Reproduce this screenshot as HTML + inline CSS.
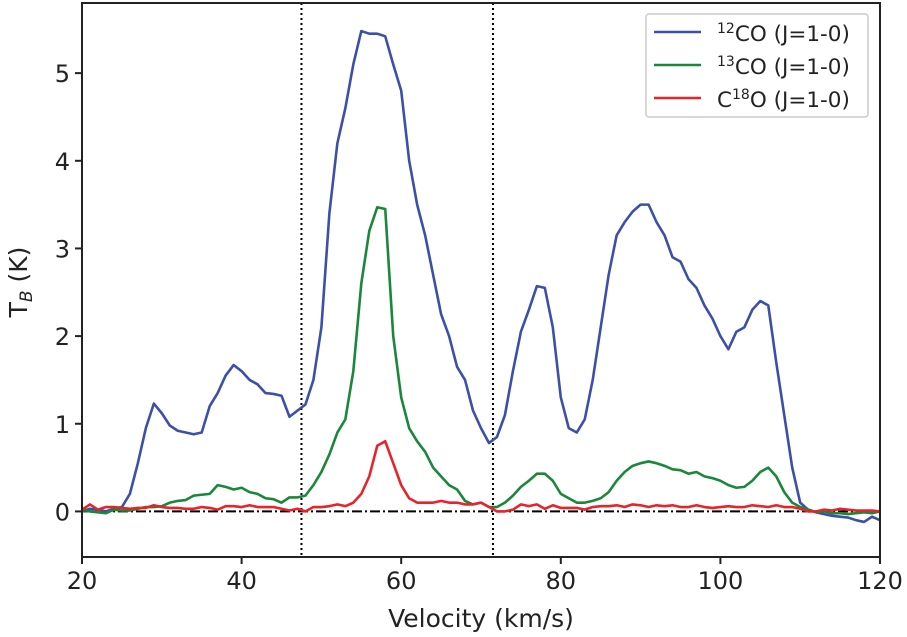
<!DOCTYPE html>
<html><head><meta charset="utf-8">
<style>body{margin:0;background:#fff}svg{display:block;font-family:"DejaVu Sans","Liberation Sans",sans-serif}</style>
</head><body>
<svg id="chart" width="907" height="637" viewBox="0 0 907 637" xmlns="http://www.w3.org/2000/svg">
<g id="plot"></g>
</svg>
<script>
const velocities=[];for(let v=20;v<=120;v++)velocities.push(v);
const co12=[0,0.03,0.02,0,0.03,0.05,0.2,0.55,0.95,1.23,1.12,0.98,0.92,0.9,0.88,0.9,1.2,1.35,1.55,1.67,1.6,1.5,1.45,1.35,1.34,1.32,1.08,1.15,1.22,1.5,2.1,3.4,4.2,4.6,5.1,5.48,5.45,5.45,5.42,5.1,4.8,4.0,3.5,3.15,2.7,2.25,2.0,1.65,1.5,1.15,0.95,0.78,0.85,1.1,1.6,2.05,2.3,2.57,2.55,2.1,1.3,0.95,0.9,1.05,1.5,2.1,2.7,3.15,3.3,3.42,3.5,3.5,3.3,3.15,2.9,2.85,2.65,2.55,2.35,2.2,2.0,1.85,2.05,2.1,2.3,2.4,2.35,1.7,1.1,0.5,0.1,0.02,-0.01,-0.03,-0.05,-0.06,-0.07,-0.1,-0.12,-0.06,-0.1];
const co13=[0.02,0,-0.01,-0.02,0.02,0.01,0.01,0.03,0.05,0.05,0.06,0.1,0.12,0.13,0.18,0.19,0.2,0.3,0.28,0.25,0.27,0.22,0.2,0.15,0.14,0.1,0.16,0.16,0.18,0.3,0.45,0.65,0.9,1.05,1.6,2.6,3.2,3.47,3.45,2.0,1.3,0.95,0.8,0.68,0.5,0.4,0.3,0.25,0.12,0.08,0.1,0.05,0.05,0.1,0.18,0.28,0.35,0.43,0.43,0.35,0.2,0.15,0.1,0.1,0.12,0.15,0.22,0.35,0.45,0.52,0.55,0.57,0.55,0.52,0.48,0.47,0.43,0.45,0.4,0.38,0.35,0.3,0.27,0.28,0.35,0.45,0.5,0.4,0.22,0.1,0.05,0.02,-0.01,0,-0.02,-0.02,-0.03,-0.02,-0.01,-0.02,0];
const c18o=[0.02,0.08,0.02,0.05,0.05,0.04,0.03,0.04,0.04,0.07,0.05,0.04,0.04,0.03,0.03,0.05,0.04,0.02,0.06,0.06,0.05,0.07,0.05,0.05,0.05,0.03,0.01,0.03,0,0.05,0.05,0.06,0.08,0.06,0.1,0.2,0.4,0.75,0.8,0.55,0.3,0.15,0.1,0.1,0.1,0.12,0.1,0.1,0.08,0.08,0.1,0.05,0,0,0.02,0.08,0.06,0.08,0.03,0.07,0.04,0.04,0.04,0.02,0.05,0.06,0.06,0.07,0.05,0.08,0.07,0.05,0.07,0.06,0.07,0.05,0.05,0.07,0.05,0.04,0.05,0.06,0.05,0.05,0.07,0.06,0.05,0.07,0.05,0.05,0.03,0,0,0.02,0.01,0.03,0.02,0.01,0.01,0.01,0];
const xTicks=[20,40,60,80,100,120];
const yTicks=[0,1,2,3,4,5];
const vLines=[47.5,71.5];
const L=82,R=880,T=3,B=557,XMIN=20,XMAX=120,YMIN=-0.52,YMAX=5.8;
const X=v=>L+(v-XMIN)/(XMAX-XMIN)*(R-L);
const Y=t=>B-(t-YMIN)/(YMAX-YMIN)*(B-T);
const NS='http://www.w3.org/2000/svg';
const g=document.getElementById('plot');
function mk(tag,a,parent){const e=document.createElementNS(NS,tag);for(const k in a)e.setAttribute(k,a[k]);(parent||g).appendChild(e);return e;}
let e=mk('line',{x1:L,x2:R,y1:Y(0),y2:Y(0),stroke:'#000','stroke-width':2,'stroke-dasharray':'10 3 2 3'});


vLines.forEach(v=>{const l=mk('line',{x1:X(v),x2:X(v),y1:T,y2:B,stroke:'#000','stroke-width':2,'stroke-dasharray':'2 3'});

});
const series=[[co12,'#3b50a6','co12-line'],[co13,'#1a873a','co13-line'],[c18o,'#e8232a','c18o-line']];
series.forEach(s=>{const p=mk('polyline',{points:velocities.map((v,i)=>X(v)+','+Y(s[0][i])).join(' '),fill:'none',stroke:s[1],'stroke-width':2.6,'stroke-linejoin':'round'});

});
e=mk('rect',{x:L,y:T,width:R-L,height:B-T,fill:'none',stroke:'#222','stroke-width':2});


xTicks.forEach(v=>{mk('line',{x1:X(v),x2:X(v),y1:B,y2:B+7,stroke:'#222','stroke-width':2});
const t=mk('text',{x:X(v),y:B+32,'text-anchor':'middle','font-size':24,fill:'#222'});t.textContent=v;

});
yTicks.forEach(v=>{mk('line',{x1:L-7,x2:L,y1:Y(v),y2:Y(v),stroke:'#222','stroke-width':2});
const t=mk('text',{x:L-12,y:Y(v)+9,'text-anchor':'end','font-size':24,fill:'#222'});t.textContent=v;

});
</script>
<svg style="position:absolute;left:0;top:0" width="907" height="637" xmlns="http://www.w3.org/2000/svg" font-family="DejaVu Sans, Liberation Sans, sans-serif">
<text x="481" y="627" text-anchor="middle" font-size="25" fill="#222">Velocity (km/s)</text>
<text transform="translate(27,282) rotate(-90)" text-anchor="middle" font-size="25" fill="#222">T<tspan font-size="17" dy="5" font-style="italic">B</tspan><tspan dy="-5"> (K)</tspan></text>
<g>
<rect x="646" y="14" width="222" height="103" rx="3" fill="#fff" stroke="#ccc" stroke-width="1.5"/>
<line x1="654" x2="701" y1="32" y2="32" stroke="#3b50a6" stroke-width="2.6"/>
<line x1="654" x2="701" y1="65" y2="65" stroke="#1a873a" stroke-width="2.6"/>
<line x1="654" x2="701" y1="98" y2="98" stroke="#e8232a" stroke-width="2.6"/>
<text x="717" y="41" font-size="21.5" fill="#222"><tspan font-size="14" dy="-8">12</tspan><tspan dy="8">CO (J=1-0)</tspan></text>
<text x="717" y="74" font-size="21.5" fill="#222"><tspan font-size="14" dy="-8">13</tspan><tspan dy="8">CO (J=1-0)</tspan></text>
<text x="717" y="107" font-size="21.5" fill="#222">C<tspan font-size="14" dy="-8">18</tspan><tspan dy="8">O (J=1-0)</tspan></text>
</g>
</svg>
</body></html>
